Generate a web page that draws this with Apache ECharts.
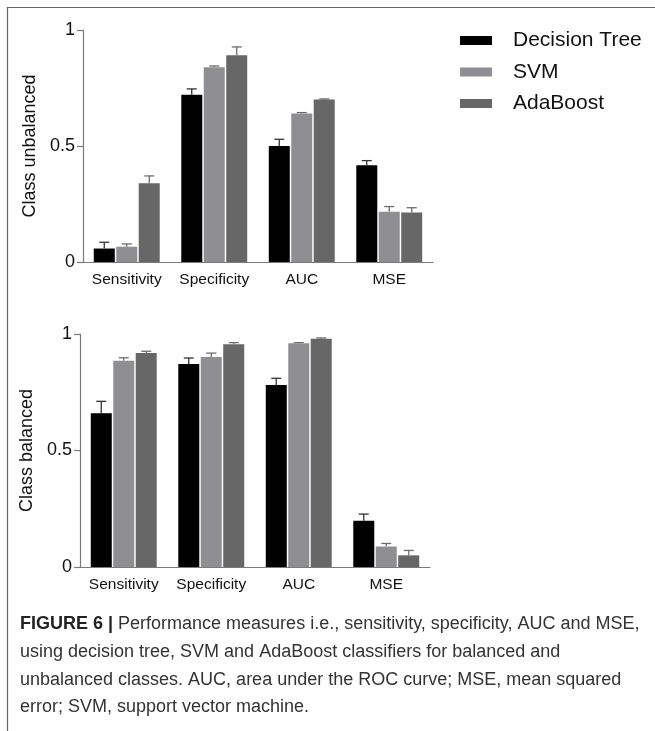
<!DOCTYPE html>
<html>
<head>
    <meta charset="utf-8">
    <title>Figure 6</title>
    <script src="https://cdn.jsdelivr.net/npm/echarts@6/dist/echarts.min.js"></script>
    <style>
        html, body {margin: 0; padding: 0; background: #fff;}
        #main {width: 655px; height: 731px;}
    </style>
</head>
<body>
<div id="main"></div>
<script type="text/javascript">
    // data
    var categories = ['Sensitivity', 'Specificity', 'AUC', 'MSE'];
    var seriesNames = ['Decision Tree', 'SVM', 'AdaBoost'];
    var colors = ['#000000', '#8f8f93', '#676767'];
    var yTicks = [0, 0.5, 1];

    // class unbalanced (top panel): means and upper error
    var unbalDT = [0.058, 0.721, 0.500, 0.417];
    var unbalDTErr = [0.085, 0.746, 0.529, 0.437];
    var unbalSVM = [0.066, 0.839, 0.640, 0.217];
    var unbalSVMErr = [0.078, 0.845, 0.644, 0.239];
    var unbalAda = [0.339, 0.891, 0.700, 0.213];
    var unbalAdaErr = [0.371, 0.927, 0.703, 0.234];

    // class balanced (bottom panel)
    var balDT = [0.660, 0.871, 0.781, 0.198];
    var balDTErr = [0.711, 0.897, 0.810, 0.227];
    var balSVM = [0.885, 0.901, 0.960, 0.088];
    var balSVMErr = [0.898, 0.918, 0.963, 0.101];
    var balAda = [0.918, 0.956, 0.980, 0.050];
    var balAdaErr = [0.926, 0.963, 0.983, 0.071];

    var barW = 21, barStep = 22.5;
    var axisColor = '#7a7a7a';
    var font = 'Liberation Sans, Arial, sans-serif';

    function errData(vals, errs) {
        var out = [];
        for (var i = 0; i < vals.length; i++) out.push([i, vals[i], errs[i]]);
        return out;
    }

    function errSeries(idx, grid, vals, errs) {
        var off = (idx - 1) * barStep;
        var col = idx === 0 ? '#333' : '#6d6d6d';
        return {
            type: 'custom',
            xAxisIndex: grid, yAxisIndex: grid,
            z: 1,
            silent: true,
            data: errData(vals, errs),
            renderItem: function (params, api) {
                var lo = api.coord([api.value(0), api.value(1)]);
                var hi = api.coord([api.value(0), api.value(2)]);
                var x = lo[0] + off;
                return {
                    type: 'group',
                    children: [
                        {type: 'line', shape: {x1: x, y1: lo[1], x2: x, y2: hi[1]}, style: {stroke: col, lineWidth: 1.3}},
                        {type: 'line', shape: {x1: x - 5, y1: hi[1], x2: x + 5, y2: hi[1]}, style: {stroke: col, lineWidth: 1.3}}
                    ]
                };
            }
        };
    }

    function barSeries(idx, grid, vals) {
        return {
            name: seriesNames[idx],
            type: 'bar',
            xAxisIndex: grid, yAxisIndex: grid,
            barWidth: barW,
            barGap: '7%',
            z: 2,
            itemStyle: {color: colors[idx]},
            data: vals
        };
    }

    function xAxis(grid) {
        return {
            type: 'category', gridIndex: grid, data: categories,
            axisLine: {lineStyle: {color: axisColor, width: 1.2}},
            axisTick: {alignWithLabel: true, length: 5, lineStyle: {color: axisColor, width: 1.2}},
            axisLabel: {interval: 0, color: '#111', fontSize: 15.5, fontFamily: font, margin: 10}
        };
    }

    function yAxis(grid, name) {
        return {
            type: 'value', gridIndex: grid, min: 0, max: 1, interval: 0.5,
            name: name, nameLocation: 'middle', nameGap: 41,
            nameTextStyle: {color: '#111', fontSize: 18, fontFamily: font},
            splitLine: {show: false},
            axisLine: {show: true, lineStyle: {color: axisColor, width: 1.2}},
            axisTick: {show: true, length: 6, lineStyle: {color: axisColor, width: 1.2}},
            axisLabel: {color: '#111', fontSize: 18, fontFamily: font, margin: 8,
                formatter: function (v) { return yTicks.indexOf(v) >= 0 ? String(v) : ''; }}
        };
    }

    var chart = echarts.init(document.getElementById('main'), null, {renderer: 'canvas'});

    chart.setOption({
        animation: false,
        color: colors,
        legend: {
            data: seriesNames,
            orient: 'vertical',
            left: 460, top: 30, padding: 0,
            itemWidth: 32, itemHeight: 9,
            itemGap: 10.5,
            icon: 'rect',
            textStyle: {color: '#111', fontSize: 21, fontFamily: font, lineHeight: 21, padding: [0, 0, 0, 16]}
        },
        grid: [
            {left: 83, top: 30, width: 350, height: 232},
            {left: 80, top: 334, width: 350, height: 233}
        ],
        xAxis: [xAxis(0), xAxis(1)],
        yAxis: [yAxis(0, 'Class unbalanced'), yAxis(1, 'Class balanced')],
        series: [
            barSeries(0, 0, unbalDT), barSeries(1, 0, unbalSVM), barSeries(2, 0, unbalAda),
            errSeries(0, 0, unbalDT, unbalDTErr), errSeries(1, 0, unbalSVM, unbalSVMErr), errSeries(2, 0, unbalAda, unbalAdaErr),
            barSeries(0, 1, balDT), barSeries(1, 1, balSVM), barSeries(2, 1, balAda),
            errSeries(0, 1, balDT, balDTErr), errSeries(1, 1, balSVM, balSVMErr), errSeries(2, 1, balAda, balAdaErr)
        ],
        graphic: [
            // frame lines top and left
            {type: 'line', shape: {x1: 7, y1: 7.5, x2: 655, y2: 7.5}, style: {stroke: '#666', lineWidth: 1.2}, silent: true},
            {type: 'line', shape: {x1: 7.5, y1: 7, x2: 7.5, y2: 731}, style: {stroke: '#666', lineWidth: 1.2}, silent: true},
            {
                type: 'text', left: 20, top: 610.5, silent: true,
                style: {
                    text: '{b|FIGURE 6 |} Performance measures i.e., sensitivity, specificity, AUC and MSE,\n' +
                        'using decision tree, SVM and AdaBoost classifiers for balanced and\n' +
                        'unbalanced classes. AUC, area under the ROC curve; MSE, mean squared\n' +
                        'error; SVM, support vector machine.',
                    font: '18px ' + font,
                    fill: '#333',
                    lineHeight: 27.7,
                    rich: {
                        b: {fontWeight: 'bold', fontSize: 18, fontFamily: font, fill: '#222', lineHeight: 27.7}
                    }
                }
            }
        ]
    });
</script>
</body>
</html>
